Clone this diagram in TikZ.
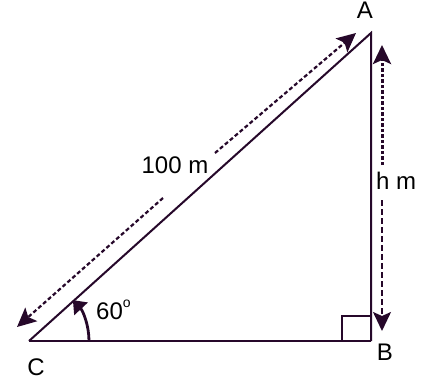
\documentclass[tikz,border=0pt]{standalone}
\usepackage{fontspec}
\setmainfont{Liberation Sans}
\usetikzlibrary{arrows.meta}
\definecolor{ink}{RGB}{38,8,42}
\begin{document}
\begin{tikzpicture}[x=1pt,y=-1pt,
  side/.style={draw=ink,line width=2pt},
  measure/.style={draw=ink,line width=2.2pt,dash pattern=on 4pt off 2.5pt,-{Stealth[width=18pt,length=19pt,inset=4pt,sep=0pt]}},
  lbl/.style={font=\fontsize{24}{26}\selectfont,inner sep=0pt,anchor=base}]
\useasboundingbox (0,0) rectangle (429,383);
\fill[white] (0,0) rectangle (429,383);
\coordinate (Cv) at (29,341);
\coordinate (Bv) at (371,341);
\coordinate (Av) at (371,33);
% triangle
\draw[side] (Cv) -- (Av) -- (Bv);
\draw[draw=ink,line width=2.8pt] (Cv) -- (Bv);
% right angle mark
\coordinate (Sq1) at (342,341);
\coordinate (Sq2) at (342,316);
\coordinate (Sq3) at (371,316);
\draw[draw=ink,line width=2.6pt] (Sq1) -- (Sq2) -- (Sq3);
% labels
\node[lbl] (A) at (365,18) {A};
\node[lbl] (B) at (385,360) {B};
\node[lbl] (C) at (36,375) {C};
\node[lbl] (hyp) at (175,173) {100 m};
\node[lbl,anchor=base west] (h) at (376,189) {h m};
\node[lbl,anchor=base west] (ang) at (96,319) {60\raisebox{0.5em}{\fontsize{14}{14}\selectfont o}};
% hypotenuse measure arrows
\coordinate (D1) at (163,198);
\coordinate (D1t) at (17,327);
\coordinate (D2) at (215,153);
\coordinate (D2t) at (356,33);
\draw[measure] (D1) -- (D1t);
\draw[measure] (D2) -- (D2t);
% height measure arrows
\coordinate (V1) at (382,165);
\coordinate (V1t) at (382,45);
\coordinate (V2) at (382,200);
\coordinate (V2t) at (382,331);
\draw[measure,line width=3pt,dash pattern=on 3.5pt off 2pt] (V1) -- (V1t);
\draw[measure,line width=1.8pt,dash pattern=on 6pt off 3pt] (V2) -- (V2t);
% angle arc
\coordinate (Arc0) at (89,341);
\draw[draw=ink,line width=2.8pt,-{Triangle[width=18pt,length=12pt]}] (Arc0) arc[start angle=0,end angle=43,radius=60pt];
\end{tikzpicture}
\end{document}
